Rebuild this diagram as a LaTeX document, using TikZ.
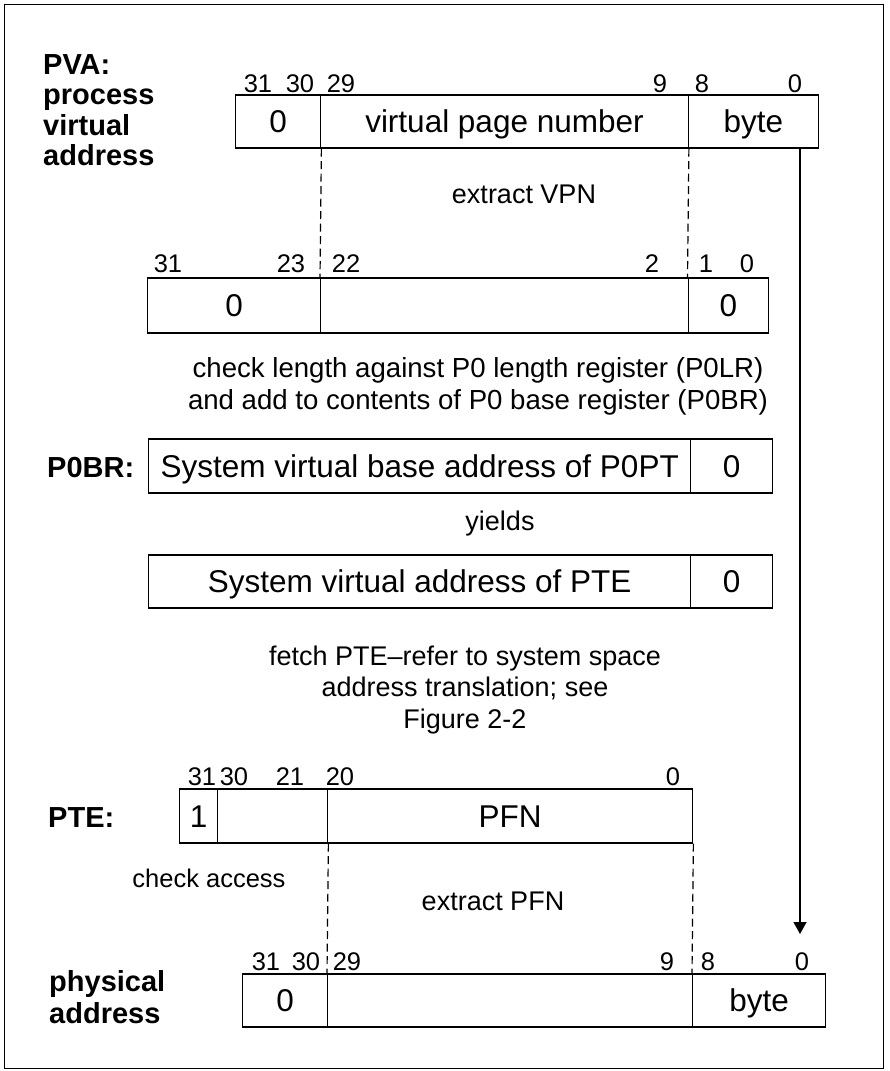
\documentclass[tikz,border=0pt]{standalone}
\usepackage{fontspec}
\setmainfont{Liberation Sans}
\usetikzlibrary{arrows.meta}
\begin{document}
\begin{tikzpicture}[x=1pt,y=-1pt,
  field/.style={draw, line width=1.4pt, inner sep=0pt, anchor=west,
    font=\fontsize{31.5}{36}\selectfont, text height=22.5pt, text depth=0pt},
  bit/.style={font=\fontsize{25.5}{28}\selectfont, anchor=base, inner sep=0pt},
  note/.style={font=\fontsize{27}{31.5}\selectfont, inner sep=0pt, align=center},
  lbl/.style={font=\fontsize{29}{30.5}\selectfont\bfseries, inner sep=0pt, align=left},
  guide/.style={line width=1.2pt, dash pattern=on 8pt off 4.5pt},
  flow/.style={line width=1.2pt, -{Triangle[width=13pt,length=12pt]}}
]
\useasboundingbox (0,0) rectangle (889,1071);
\draw[line width=1pt] (4,4) rectangle (883,1068);

% PVA
\node[lbl, anchor=north west] (pvalbl) at (43,54) {PVA:\\process\\virtual\\address};
\node[field, minimum width=85pt, minimum height=53pt] (pva0) at (235,121.5) {0};
\node[field, minimum width=367.5pt, minimum height=53pt] (pvavpn) at (320,121.5) {virtual page number};
\node[field, minimum width=130.5pt, minimum height=53pt] (pvabyte) at (687.5,121.5) {byte};
\node[bit] (pa31) at (258,92) {31};
\node[bit] (pa30) at (300,92) {30};
\node[bit] (pa29) at (341,92) {29};
\node[bit] (pa9) at (660,92) {9};
\node[bit] (pa8) at (702,92) {8};
\node[bit] (pa0b) at (795,92) {0};

\node[note, anchor=base] (xvpn) at (524,203) {extract VPN};

% shifted VPN
\node[field, minimum width=173pt, minimum height=55pt] (vpn0) at (147,305.5) {0};
\node[field, minimum width=367.5pt, minimum height=55pt] (vpnmid) at (320,305.5) {};
\node[field, minimum width=80.5pt, minimum height=55pt] (vpnlow) at (687.5,305.5) {0};
\node[bit] (v31) at (168,272) {31};
\node[bit] (v23) at (291,272) {23};
\node[bit] (v22) at (346,272) {22};
\node[bit] (v2) at (652,272) {2};
\node[bit] (v1) at (706,272) {1};
\node[bit] (v0) at (747,272) {0};

\draw[guide] (pva0.south east) -- (vpnmid.north west);
\draw[guide] (pvavpn.south east) -- (vpnlow.north west);

\node[note, anchor=north, font=\fontsize{27.6}{32}\selectfont] (chk) at (478,357.5) {check length against P0 length register (P0LR)\\and add to contents of P0 base register (P0BR)};

% P0BR
\node[lbl, anchor=base west] (pobrlbl) at (47,477) {P0BR:};
\node[field, minimum width=542pt, minimum height=54pt] (pobr) at (148,466) {System virtual base address of P0PT};
\node[field, minimum width=82pt, minimum height=54pt] (pobr0) at (690,466) {0};

\node[note, anchor=base] (yld) at (500,530) {yields};

% SVA of PTE
\node[field, minimum width=542pt, minimum height=53pt] (sva) at (148,581.5) {System virtual address of PTE};
\node[field, minimum width=82pt, minimum height=53pt] (sva0) at (690,581.5) {0};

\node[note, anchor=north] (fetch) at (465,645.5) {fetch PTE–refer to system space\\address translation; see\\Figure 2-2};

% PTE
\node[lbl, anchor=base west] (ptelbl) at (48,827) {PTE:};
\node[field, minimum width=38pt, minimum height=54pt] (ptev) at (179,816) {1};
\node[field, minimum width=110pt, minimum height=54pt] (pteres) at (217,816) {};
\node[field, minimum width=365pt, minimum height=54pt] (pfn) at (327,816) {PFN};
\node[bit] (t31) at (202,785) {31};
\node[bit] (t30) at (234,785) {30};
\node[bit] (t21) at (290,785) {21};
\node[bit] (t20) at (340,785) {20};
\node[bit] (t0) at (673,785) {0};

\node[note, anchor=base, font=\fontsize{25.5}{30}\selectfont] (chkacc) at (209,887) {check access};
\node[note, anchor=base] (xpfn) at (493,910) {extract PFN};

% physical address
\node[lbl, anchor=north west, font=\fontsize{29}{32.5}\selectfont\bfseries] (palbl) at (49,970) {physical\\address};
\node[field, minimum width=85pt, minimum height=53pt] (pa0) at (242,1000.5) {0};
\node[field, minimum width=365pt, minimum height=53pt] (pamid) at (327,1000.5) {};
\node[field, minimum width=133pt, minimum height=53pt] (pabyte) at (692,1000.5) {byte};
\node[bit] (p31) at (266,970) {31};
\node[bit] (p30) at (306,970) {30};
\node[bit] (p29) at (347,970) {29};
\node[bit] (p9) at (667,970) {9};
\node[bit] (p8) at (708,970) {8};
\node[bit] (p0) at (802,970) {0};

\draw[guide] (pteres.south east) -- (pamid.north west);
\draw[guide] (pfn.south east) -- (pabyte.north west);

% byte offset arrow
\coordinate (arrS) at (800,148);
\coordinate (arrE) at (800,934);
\draw[flow] (arrS) -- (arrE);
\end{tikzpicture}
\end{document}
